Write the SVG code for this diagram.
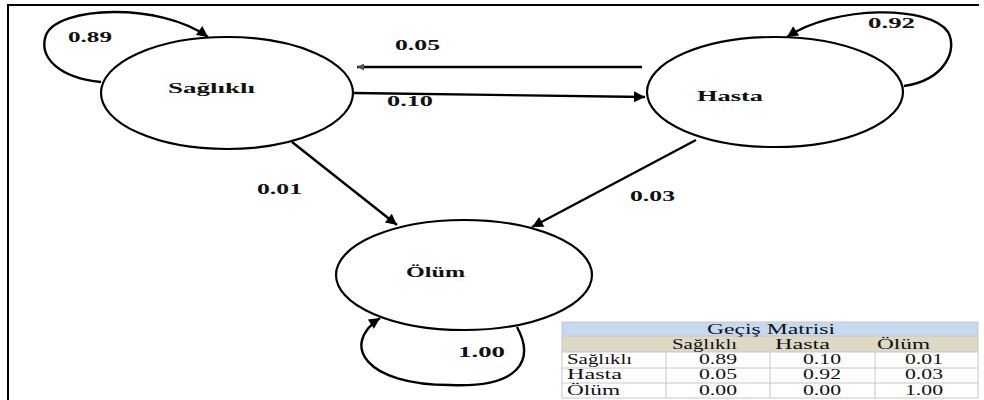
<svg xmlns="http://www.w3.org/2000/svg" width="984" height="400" viewBox="0 0 984 400">
<defs>
<style>
.node ellipse{fill:#fff;stroke:#000;stroke-width:2.2}
.lbl{font-family:"Liberation Serif","Times New Roman",serif;font-weight:bold;font-size:14px;fill:#111}
.edge{fill:none;stroke:#000;stroke-width:2.4}
.tt{font-family:"Liberation Serif","Times New Roman",serif;font-size:14px;fill:#111}
.grid{stroke:#c8c8c8;stroke-width:1}
</style>
<marker id="ahb" viewBox="0 0 10 10" refX="10" refY="5" markerWidth="16" markerHeight="11" markerUnits="userSpaceOnUse" orient="auto">
<path d="M0,0 L10,5 L0,10 z" fill="#000"/>
</marker>
<marker id="ahg" viewBox="0 0 10 10" refX="10" refY="5" markerWidth="12" markerHeight="7" markerUnits="userSpaceOnUse" orient="auto">
<path d="M0,0 L10,5 L0,10 z" fill="#555"/>
</marker>
</defs>
<rect width="984" height="400" fill="#fff"/>
<path d="M8,400 L8,5 L979,5" fill="none" stroke="#000" stroke-width="2"/>

<g id="connectors">
<path class="edge" d="M101,82 C60,78 38,58 46,35 C58,6 160,2 208,37" marker-end="url(#ahb)"/>
<path class="edge" d="M904,86 C945,80 958,50 948,32 C930,5 835,5 787,37" marker-end="url(#ahb)"/>
<path class="edge" d="M517,327 C535,360 520,388 450,385 C365,385 340,345 380,318" marker-end="url(#ahb)"/>
<path class="edge" d="M642,67 L357,67" stroke="#555" stroke-width="1.5" marker-end="url(#ahg)"/>
<path class="edge" d="M353,93 L645,97" stroke-width="1.5" marker-end="url(#ahb)"/>
<path class="edge" d="M292,142 L397,225" stroke-width="2.6" marker-end="url(#ahb)"/>
<path class="edge" d="M696,140 L532,227" stroke-width="2.6" marker-end="url(#ahb)"/>
<text class="lbl" x="68" y="42" textLength="44" lengthAdjust="spacingAndGlyphs">0.89</text>
<text class="lbl" x="868" y="28" textLength="47" lengthAdjust="spacingAndGlyphs">0.92</text>
<text class="lbl" x="395" y="50" textLength="45" lengthAdjust="spacingAndGlyphs">0.05</text>
<text class="lbl" x="387" y="106" textLength="46" lengthAdjust="spacingAndGlyphs">0.10</text>
<text class="lbl" x="257" y="194" textLength="45" lengthAdjust="spacingAndGlyphs">0.01</text>
<text class="lbl" x="630" y="201" textLength="45" lengthAdjust="spacingAndGlyphs">0.03</text>
<text class="lbl" x="458" y="357" font-size="16" textLength="47" lengthAdjust="spacingAndGlyphs">1.00</text>
</g>

<g id="node-saglikli" class="node">
<ellipse cx="227" cy="93" rx="126" ry="56"/>
<text class="lbl" x="168" y="93" textLength="87" lengthAdjust="spacingAndGlyphs">Sağlıklı</text>
</g>
<g id="node-hasta" class="node">
<ellipse cx="775" cy="92" rx="128" ry="55"/>
<text class="lbl" x="697" y="101" textLength="66" lengthAdjust="spacingAndGlyphs">Hasta</text>
</g>
<g id="node-olum" class="node">
<ellipse cx="464" cy="275" rx="128" ry="55"/>
<text class="lbl" x="406" y="277" textLength="59" lengthAdjust="spacingAndGlyphs">Ölüm</text>
</g>

<g id="table">
<rect x="562" y="322" width="416" height="14" fill="#c5d9f1"/>
<rect x="562" y="336" width="416" height="16" fill="#ddd9c4"/>
<rect x="562" y="352" width="416" height="46" fill="#fff"/>
<line class="grid" x1="562" y1="322" x2="978" y2="322"/>
<line class="grid" x1="562" y1="336" x2="978" y2="336"/>
<line class="grid" x1="562" y1="352" x2="978" y2="352" stroke="#999"/>
<line class="grid" x1="562" y1="368" x2="978" y2="368"/>
<line class="grid" x1="562" y1="383" x2="978" y2="383"/>
<line class="grid" x1="562" y1="398" x2="978" y2="398"/>
<line class="grid" x1="562" y1="322" x2="562" y2="398"/>
<line class="grid" x1="978" y1="322" x2="978" y2="398"/>
<line class="grid" x1="666" y1="352" x2="666" y2="398"/>
<line class="grid" x1="770" y1="352" x2="770" y2="398"/>
<line class="grid" x1="875" y1="352" x2="875" y2="398"/>
<text class="tt" x="707" y="334" textLength="128" lengthAdjust="spacingAndGlyphs">Geçiş Matrisi</text>
<text class="tt" x="672" y="349" textLength="65" lengthAdjust="spacingAndGlyphs">Sağlıklı</text>
<text class="tt" x="775" y="349" textLength="55" lengthAdjust="spacingAndGlyphs">Hasta</text>
<text class="tt" x="877" y="349" textLength="53" lengthAdjust="spacingAndGlyphs">Ölüm</text>
<text class="tt" x="567" y="364" textLength="65" lengthAdjust="spacingAndGlyphs">Sağlıklı</text>
<text class="tt" x="567" y="379" textLength="55" lengthAdjust="spacingAndGlyphs">Hasta</text>
<text class="tt" x="567" y="395" textLength="53" lengthAdjust="spacingAndGlyphs">Ölüm</text>
<text class="tt" x="699" y="364" textLength="38" lengthAdjust="spacingAndGlyphs">0.89</text>
<text class="tt" x="803" y="364" textLength="38" lengthAdjust="spacingAndGlyphs">0.10</text>
<text class="tt" x="905" y="364" textLength="38" lengthAdjust="spacingAndGlyphs">0.01</text>
<text class="tt" x="699" y="379" textLength="38" lengthAdjust="spacingAndGlyphs">0.05</text>
<text class="tt" x="803" y="379" textLength="38" lengthAdjust="spacingAndGlyphs">0.92</text>
<text class="tt" x="905" y="379" textLength="38" lengthAdjust="spacingAndGlyphs">0.03</text>
<text class="tt" x="699" y="395" textLength="38" lengthAdjust="spacingAndGlyphs">0.00</text>
<text class="tt" x="803" y="395" textLength="38" lengthAdjust="spacingAndGlyphs">0.00</text>
<text class="tt" x="905" y="395" textLength="38" lengthAdjust="spacingAndGlyphs">1.00</text>
</g>
</svg>
